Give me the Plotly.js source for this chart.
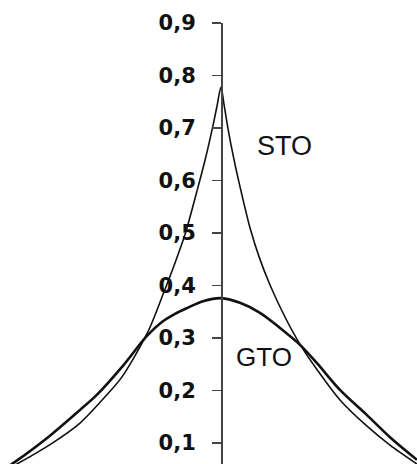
<!DOCTYPE html>
<html>
<head>
<meta charset="utf-8">
<script src="https://cdn.plot.ly/plotly-3.0.1.min.js"></script>
<style>html,body{margin:0;padding:0;background:#fff;}#chart{width:417px;height:464px;}</style>
</head>
<body>
<div id="chart"></div>
<script>
// Values
const stoX = [-3.157, -2.943, -2.443, -2.014, -1.629, -1.414, -1.043, -0.814, -0.657, -0.514, -0.343, -0.229, -0.114, -0.057, 0,
              0.043, 0.086, 0.143, 0.214, 0.300, 0.414, 0.543, 0.700, 0.914, 1.129, 1.371, 1.700, 2.086, 2.414, 2.800];
const stoY = [0.043, 0.058, 0.097, 0.138, 0.192, 0.226, 0.312, 0.388, 0.443, 0.497, 0.580, 0.638, 0.705, 0.742, 0.778,
              0.745, 0.710, 0.668, 0.622, 0.572, 0.510, 0.455, 0.401, 0.340, 0.288, 0.240, 0.182, 0.132, 0.096, 0.060];
const gtoX = [-3.157, -2.943, -2.443, -2.014, -1.771, -1.414, -1.057, -0.829, -0.657, -0.486, -0.257, 0,
              0.271, 0.557, 0.843, 1.129, 1.371, 1.700, 2.086, 2.414, 2.800];
const gtoY = [0.045, 0.064, 0.114, 0.163, 0.192, 0.245, 0.304, 0.332, 0.346, 0.357, 0.370, 0.376,
              0.367, 0.348, 0.319, 0.287, 0.252, 0.201, 0.153, 0.111, 0.068];
const tickVals = [0.1, 0.2, 0.3, 0.4, 0.5, 0.6, 0.7, 0.8, 0.9];
const seriesNames = ['STO', 'GTO'];

const traces = [
  {x: stoX, y: stoY, name: seriesNames[0], mode: 'lines', line: {color: '#111', width: 1.6, shape: 'spline', smoothing: 0.8}, hoverinfo: 'skip'},
  {x: gtoX, y: gtoY, name: seriesNames[1], mode: 'lines', line: {color: '#111', width: 2.6, shape: 'spline', smoothing: 1}, hoverinfo: 'skip'}
];

const layout = {
  width: 417, height: 464,
  margin: {l: 0, r: 0, t: 0, b: 0},
  paper_bgcolor: '#fff', plot_bgcolor: '#fff',
  showlegend: false,
  separators: ',.',
  xaxis: {range: [-3.157, 2.8], visible: false, fixedrange: true},
  yaxis: {
    range: [0.06, 0.9], domain: [0, 0.9504],
    anchor: 'free', position: 221/417,
    showline: true, linecolor: '#444', linewidth: 1.5,
    showgrid: false, zeroline: false,
    ticks: 'outside', ticklen: 9, tickwidth: 1.5, tickcolor: '#444',
    tickvals: tickVals, tickformat: '.1f',
    ticklabelstandoff: 12,
    tickfont: {family: 'DejaVu Sans', size: 21, color: '#111', weight: 'bold'},
    fixedrange: true
  },
  annotations: [
    {x: 0.9, y: 0.665, xref: 'x', yref: 'y', text: seriesNames[0], showarrow: false,
     font: {family: 'Liberation Sans, Arial', size: 27, color: '#111'}},
    {x: 0.614, y: 0.263, xref: 'x', yref: 'y', text: seriesNames[1], showarrow: false,
     font: {family: 'Liberation Sans, Arial', size: 26, color: '#111'}}
  ]
};

Plotly.newPlot('chart', traces, layout, {displayModeBar: false, staticPlot: true});
</script>
</body>
</html>
